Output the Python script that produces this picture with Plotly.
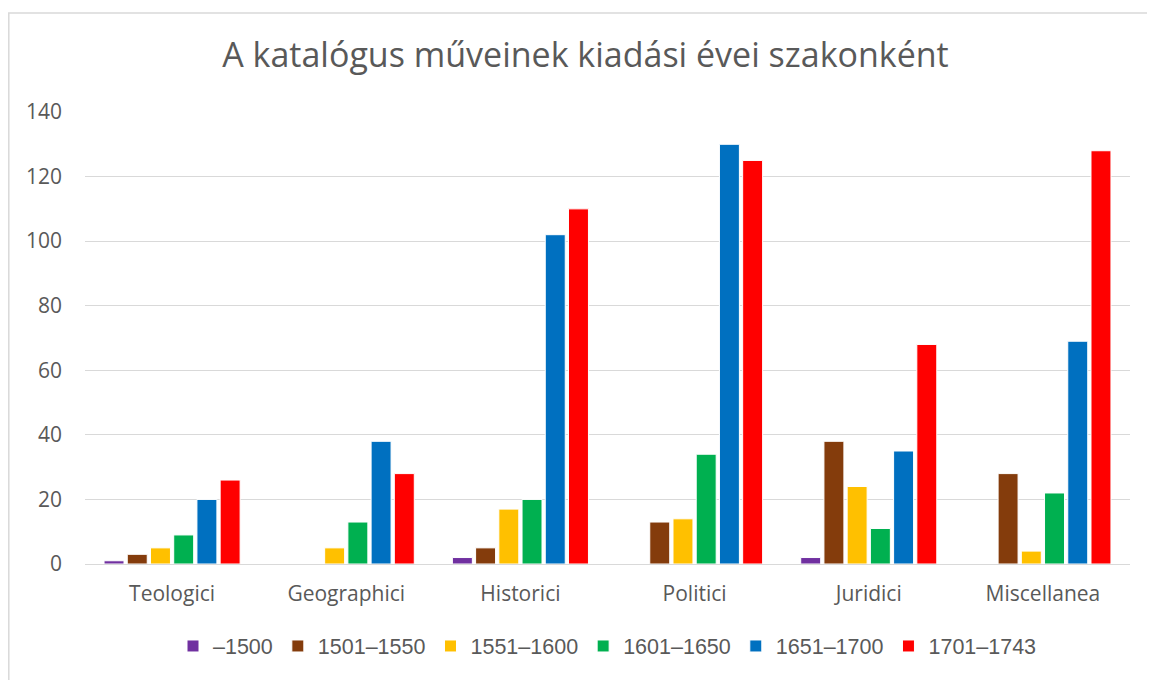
import plotly.graph_objects as go

categories = ["Teologici", "Geographici", "Historici", "Politici", "Juridici", "Miscellanea"]
series_names = ["–1500", "1501–1550", "1551–1600", "1601–1650", "1651–1700", "1701–1743"]
s_1500 = [1, 0, 2, 0, 2, 0]
s_1550 = [3, 0, 5, 13, 38, 28]
s_1600 = [5, 5, 17, 14, 24, 4]
s_1650 = [9, 13, 20, 34, 11, 22]
s_1700 = [20, 38, 102, 130, 35, 69]
s_1743 = [26, 28, 110, 125, 68, 128]
series_values = [s_1500, s_1550, s_1600, s_1650, s_1700, s_1743]
colors = ["#7030A0", "#843C0C", "#FFC000", "#00B050", "#0070C0", "#FF0000"]
y_ticks = [0, 20, 40, 60, 80, 100, 120, 140]

FONT = "Open Sans"
TXT = "#595959"
OFF = 8  # page body margin

fig = go.Figure()
for name, vals, col in zip(series_names, series_values, colors):
    fig.add_trace(go.Bar(
        x=categories, y=vals, name=name,
        marker=dict(color=col, line=dict(color="white", width=1)),
    ))

W, H = 1155, 680
L = 85 - OFF
T = 112 - OFF
right_px = 1130 - OFF
bottom_px = 564 - OFF
R = W - right_px
B = H - bottom_px
pw, ph = W - L - R, H - T - B

def px_x(p):
    return (p - OFF - L) / pw

def px_y(p):
    return (bottom_px - (p - OFF)) / ph

fig.update_layout(
    width=W, height=H,
    margin=dict(l=L, r=R, t=T, b=B),
    paper_bgcolor="white", plot_bgcolor="white",
    barmode="group", bargap=0.2, bargroupgap=0.14,
    font=dict(family=FONT, color=TXT, size=21),
    title=dict(text="A katalógus műveinek kiadási évei szakonként",
               x=0.5, xanchor="center", y=1 - (55 - OFF) / H, yanchor="middle",
               font=dict(family=FONT, size=34, color=TXT)),
    legend=dict(orientation="h", x=0.5, xanchor="center",
                y=px_y(646), yanchor="middle",
                font=dict(family="Liberation Sans", size=21.5, color=TXT),
                itemwidth=30, tracegroupgap=0),
    xaxis=dict(showgrid=False, showline=False, ticks="",
               tickfont=dict(family=FONT, size=21, color=TXT),
               ticklabelstandoff=15),
    yaxis=dict(range=[0, 140], tickvals=y_ticks, showgrid=True,
               gridcolor="#D9D9D9", gridwidth=1.3, zeroline=True,
               zerolinecolor="#D9D9D9", zerolinewidth=1.3,
               tickfont=dict(family=FONT, size=21, color=TXT),
               ticks="", ticklabelstandoff=22),
    shapes=[dict(type="rect", xref="paper", yref="paper",
                 x0=px_x(8.8), x1=px_x(1160), y0=px_y(720), y1=px_y(13),
                 line=dict(color="#D9D9D9", width=1.5), fillcolor="rgba(0,0,0,0)",
                 layer="below")],
)

fig.write_html("out.html")
